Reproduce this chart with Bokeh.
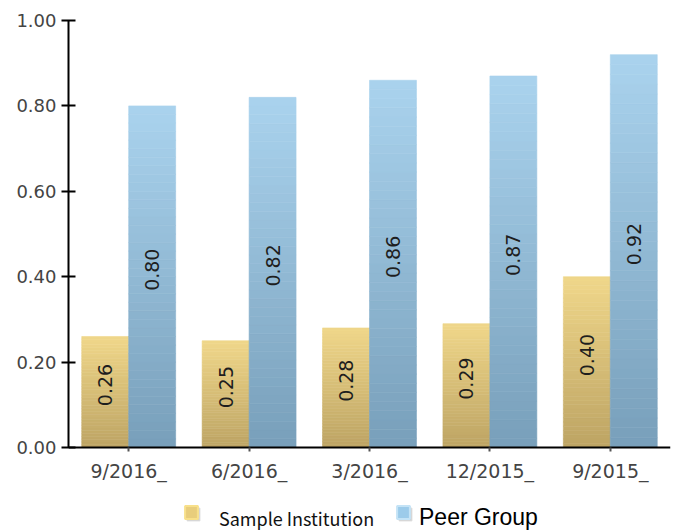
import numpy as np
from bokeh.plotting import figure
from bokeh.models import ColumnDataSource, FactorRange, Legend, LegendItem, NumeralTickFormatter, FixedTicker
from bokeh.transform import dodge
from bokeh.core.properties import value
from bokeh.embed import file_html
from bokeh.resources import INLINE

# ---- data ----
periods = ["9/2016_", "6/2016_", "3/2016_", "12/2015_", "9/2015_"]
sample_institution = [0.26, 0.25, 0.28, 0.29, 0.40]
peer_group = [0.80, 0.82, 0.86, 0.87, 0.92]
series_names = ["Sample Institution", "Peer Group"]
y_ticks = [0.0, 0.2, 0.4, 0.6, 0.8, 1.0]

# ---- style ----
gold_bottom, gold_top = (0xBD, 0xA4, 0x64), (0xF0, 0xD7, 0x8A)
blue_bottom, blue_top = (0x78, 0x9F, 0xBA), (0xAA, 0xD3, 0xEE)
BAR_W = 0.39
N_SLICES = 40
PX_PER_UNIT = 427.0
FRAME_H = 511
Y_MIN = 1 - FRAME_H / PX_PER_UNIT   # extra room under the axis for the legend


def hexc(c):
    return "#%02x%02x%02x" % tuple(int(round(v)) for v in c)


def gradient_source(values, c_bot, c_top):
    xs, bots, tops, cols = [], [], [], []
    for per, v in zip(periods, values):
        for i in range(N_SLICES):
            t = (i + 0.5) / N_SLICES
            xs.append(per)
            bots.append(v * i / N_SLICES)
            tops.append(v * (i + 1) / N_SLICES)
            cols.append(hexc([b + (a - b) * t for a, b in zip(c_top, c_bot)]))
    return ColumnDataSource(dict(period=xs, bottom=bots, top=tops, color=cols))


p = figure(x_range=FactorRange(*periods), y_range=(Y_MIN, 1),
           frame_width=602, frame_height=FRAME_H,
           min_border_left=68, min_border_right=1, min_border_top=20, min_border_bottom=0,
           output_backend="svg", toolbar_location=None, background_fill_color="white")
p.x_range.range_padding = 0
p.outline_line_color = None
p.grid.visible = False

offsets = [-BAR_W / 2, BAR_W / 2]
for vals, (cb, ct), off in zip([sample_institution, peer_group],
                               [(gold_bottom, gold_top), (blue_bottom, blue_top)], offsets):
    src = gradient_source(vals, cb, ct)
    p.vbar(x=dodge("period", off, range=p.x_range), bottom="bottom", top="top", width=BAR_W,
           fill_color="color", line_color="color", line_width=0.6, source=src)
    lab = ColumnDataSource(dict(period=periods, mid=[v / 2 for v in vals], text=[f"{v:.2f}" for v in vals]))
    p.text(x=dodge("period", off, range=p.x_range), y="mid", text="text", source=lab,
           angle=np.pi / 2, text_align="center", text_baseline="middle", y_offset=-7,
           text_font=value("DejaVu Sans"), text_font_size="19px", text_color="#1e1e1e")

# axes
p.xaxis.fixed_location = 0
p.yaxis.bounds = (0, 1)
p.yaxis.ticker = FixedTicker(ticks=y_ticks)
p.yaxis.formatter = NumeralTickFormatter(format="0.00")
p.yaxis.minor_tick_line_color = None
p.yaxis.major_tick_in = 7
p.yaxis.major_tick_out = 7
p.yaxis.major_label_standoff = 5
for ax in (p.xaxis, p.yaxis):
    ax.axis_line_width = 2
    ax.axis_line_color = "black"
    ax.major_tick_line_width = 2
    ax.major_tick_line_color = "black"
    ax.major_label_text_font = "DejaVu Sans"
    ax.major_label_text_color = "#444444"
p.yaxis.major_label_text_font_size = "18px"
p.xaxis.major_label_text_font_size = "19px"
p.xaxis.major_tick_in = 0
p.xaxis.major_tick_out = 4
p.xaxis.major_tick_line_color = "#555555"
p.xaxis.major_label_standoff = 8

# legend swatches: renderers with no drawable bar, used only for the legend
off_x, off_b, off_t = [periods[0]], [np.nan], [np.nan]
r_shadow = p.vbar(x=off_x, bottom=off_b, top=off_t, width=0.1, fill_color="#cfcfcf", line_color="#dadada", line_width=1)
r_gold = p.vbar(x=off_x, bottom=off_b, top=off_t, width=0.1, fill_color="#e8cd7c", line_color="#f8e08a", line_width=2)
r_blue = p.vbar(x=off_x, bottom=off_b, top=off_t, width=0.1, fill_color="#9ccbea", line_color="#c4e3f6", line_width=2)
r_none = p.vbar(x=off_x, bottom=off_b, top=off_t, width=0.1, fill_alpha=0, line_alpha=0)


def swatch(renderer, loc):
    return Legend(items=[LegendItem(label=" ", renderers=[renderer])], location=loc,
                  label_standoff=0, label_height=16, label_text_font_size="8px")


SW_Y = 11
legends = [
    swatch(r_shadow, (117, SW_Y - 2)),
    swatch(r_shadow, (329, SW_Y - 2)),
    swatch(r_gold, (115, SW_Y)),
    swatch(r_blue, (327, SW_Y)),
    Legend(items=[LegendItem(label=series_names[0], renderers=[r_none])], location=(115, 0),
           label_text_font="Noto Sans CJK KR", label_text_font_size="18px", label_text_color="#111111",
           label_standoff=20, label_height=20),
    Legend(items=[LegendItem(label=series_names[1], renderers=[r_none])], location=(327, 0),
           label_text_font="Liberation Sans", label_text_font_size="23px", label_text_color="#000000",
           label_standoff=8, label_height=20),
]
for lg in legends:
    lg.glyph_width = 16
    lg.glyph_height = 16
    lg.padding = 0
    lg.margin = 0
    lg.border_line_color = None
    lg.background_fill_alpha = 0
    p.add_layout(lg, "center")

open("out.html", "w").write(file_html(p, INLINE))
